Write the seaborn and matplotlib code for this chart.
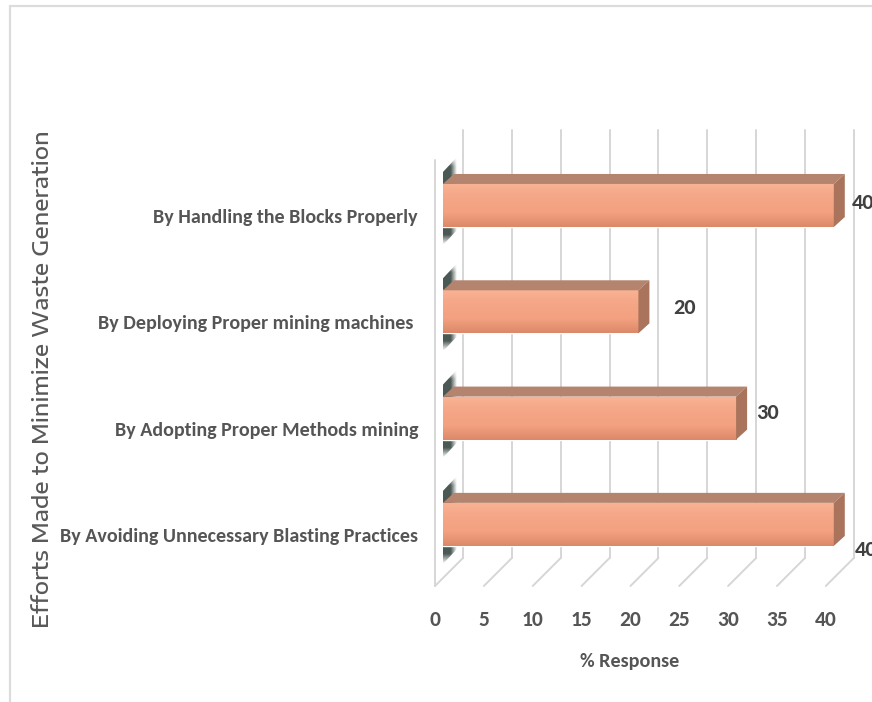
import numpy as np
import pandas as pd
import matplotlib
matplotlib.use("Agg")
import matplotlib.pyplot as plt
import seaborn as sns
from matplotlib.lines import Line2D
from matplotlib.patches import Polygon
from matplotlib.colors import LinearSegmentedColormap, to_rgb
from matplotlib.transforms import IdentityTransform

categories = [
    "By Handling the Blocks Properly",
    "By Deploying Proper mining machines ",
    "By Adopting Proper Methods mining",
    "By Avoiding Unnecessary Blasting Practices",
]
responses = [40, 20, 30, 40]
x_ticks = [0, 5, 10, 15, 20, 25, 30, 35, 40]
label_nudges = [(7, -2.5), (24, -4), (9, -5), (10, 26)]

W, H = 872, 702
BODY = ["Carlito", "Open Sans", "DejaVu Sans"]
WIDE = ["Encode Sans Expanded", "DejaVu Sans"]
TEXT = "#555555"
GRID = "#d6d6d6"

sns.set_theme(style="white")
plt.rcParams["font.family"] = BODY
fig = plt.figure(figsize=(W / 100, H / 100), dpi=100, facecolor="white")

# Plot box runs from the front-left wall corner to the right edge of the figure.
left, right, top, bottom = 435, 872, 130, 586
ax = fig.add_axes([left / W, 1 - bottom / H, (right - left) / W, (bottom - top) / H])
df = pd.DataFrame({"effort": categories, "response": responses})
sns.barplot(data=df, y="effort", x="response", orient="h", width=0.405,
            color="#f5a585", saturation=1, ax=ax, zorder=3)
bars = list(ax.patches)

origin, per_unit = 443, 9.77
ax.set_xlim((left - origin) / per_unit, (right - origin) / per_unit)
row_gap, first_row = 106.3, 205.5
ax.set_ylim((bottom - first_row) / row_gap, (top - first_row) / row_gap)
xlim, ylim = ax.get_xlim(), ax.get_ylim()
ax.axis("off")


def add_line(x0, y0, x1, y1):
    ax.add_line(Line2D([x0, x1], [H - y0, H - y1], transform=IdentityTransform(),
                       color=GRID, lw=1.4, zorder=1, clip_on=False))


# Back wall, floor and side wall rules; the depth of the 3-D box is 28 px.
depth, back_x, floor_y = 28, 20, 558
for t in x_ticks:
    xb = ax.transData.transform((t, 0))[0] + back_x
    add_line(xb, top, xb, floor_y)
    add_line(xb, floor_y, xb - depth, floor_y + depth)
    fig.text((xb - depth) / W, 1 - 620 / H, str(t), ha="center", va="center",
             fontsize=15.5, fontweight="bold", color=TEXT)
x0_front = ax.transData.transform((0, 0))[0] + back_x - depth
add_line(x0_front, top + depth + 2, x0_front, floor_y + depth)

ramp_top, ramp_bot = to_rgb("#f8b395"), to_rgb("#dc896a")
cmap = LinearSegmentedColormap.from_list(
    "bar", [ramp_top, "#f5a686", "#f3a180", ramp_bot])
shade = to_rgb("#4b5955")
dy, dx = 10, 11

for patch, value, (nx, ny) in zip(bars, responses, label_nudges):
    (x0, y1), (x1, y0) = ax.transData.transform(
        [(patch.get_x(), patch.get_y()), (patch.get_x() + patch.get_width(),
                                          patch.get_y() + patch.get_height())])

    # Dark end cap showing behind the start of each bar, fading out at both ends.
    cap = Polygon([(x0, y1 + 12), (x0 + 14, y1 + 27), (x0 + 14, y0 - 3), (x0, y0 - 18)],
                  transform=IdentityTransform(), fc="none", ec="none")
    ax.add_patch(cap)
    n = 80
    va = np.clip(np.minimum(np.linspace(0, 1, n), np.linspace(1, 0, n)) * 9, 0, 1)
    ha = np.clip(np.linspace(2.2, 0.05, 16), 0, 1)
    rgba = np.ones((n, 16, 4)) * np.array([*shade, 1.0])
    rgba[..., 3] = np.outer(va, ha)
    cap_img = ax.imshow(rgba, aspect="auto", zorder=2, interpolation="bilinear",
                        extent=(0, 1, 0, 1), transform=IdentityTransform())
    cap_img.set_extent((x0, x0 + 14, y0 - 18, y1 + 27))
    cap_img.set_clip_path(cap)

    # Top and end faces of the block.
    ax.add_patch(Polygon([(x0, y1), (x0 + dx, y1 + dy), (x1 + dx, y1 + dy), (x1, y1)],
                         transform=IdentityTransform(), fc="#b5846e", ec="none", zorder=4))
    ax.add_patch(Polygon([(x1, y1), (x1 + dx, y1 + dy), (x1 + dx, y0 + dy), (x1, y0)],
                         transform=IdentityTransform(), fc="#a9745b", ec="none", zorder=4,
                         clip_on=False))

    # Front face gets a vertical gradient clipped to the seaborn bar.
    patch.set_facecolor("none")
    img = ax.imshow(np.linspace(0, 1, 64).reshape(-1, 1), cmap=cmap, aspect="auto",
                    zorder=3, extent=(patch.get_x(), patch.get_x() + patch.get_width(),
                                      patch.get_y() + patch.get_height(), patch.get_y()))
    img.set_clip_path(patch)

    ax.annotate(str(value), xy=(value, patch.get_y() + patch.get_height() / 2),
                xytext=(dx + nx, -ny), textcoords="offset pixels", ha="left", va="center",
                fontsize=16, fontweight="bold", color="#404040",
                annotation_clip=False, zorder=6)

ax.set_xlim(xlim)
ax.set_ylim(ylim)

# Category names sit left of the wall, a little below their bars.
for patch, name in zip(bars, categories):
    yc = ax.transData.transform((0, patch.get_y() + patch.get_height() / 2))[1]
    fig.text(418 / W, (yc - 12) / H, name, ha="right", va="center",
             fontsize=14.4, fontweight="bold", color=TEXT)

fig.text(630 / W, 1 - 661 / H, "% Response", ha="center", va="center",
         fontsize=14.5, fontweight="bold", color=TEXT)
fig.text(43 / W, 1 - 379 / H, "Efforts Made to Minimize Waste Generation",
         rotation=90, ha="center", va="center", fontsize=15.8, fontfamily=WIDE,
         fontweight=500, color="#595959")

# Thin outer frame along the top and left edges.
fig.add_artist(Line2D([10 / W, 1], [1 - 6 / H, 1 - 6 / H], color="#dcdcdc", lw=1.6))
fig.add_artist(Line2D([10 / W, 10 / W], [1 - 6 / H, 0], color="#dcdcdc", lw=1.6))

fig.savefig("out.png", dpi=100, facecolor="white")
